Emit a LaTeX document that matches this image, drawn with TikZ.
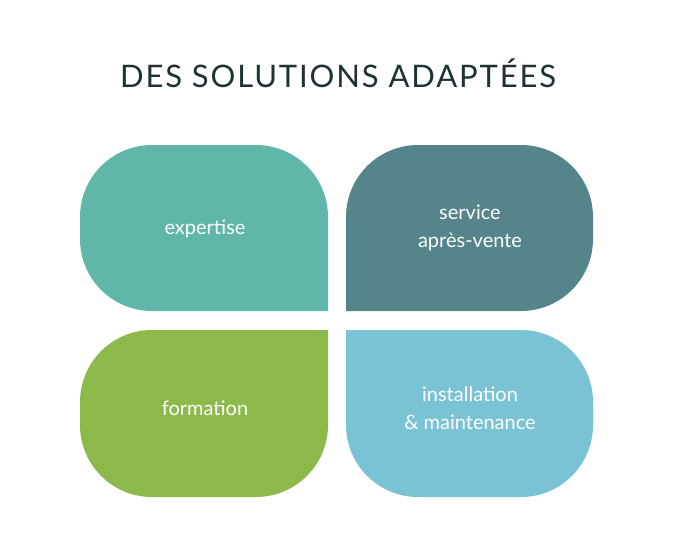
\documentclass[tikz,border=0pt]{standalone}
\usepackage{fontspec}
\setmainfont{Lato}
\newfontfamily\titlefont[LetterSpace=6]{Lato}
\definecolor{cA}{HTML}{5FB6A9}
\definecolor{cB}{HTML}{55858A}
\definecolor{cC}{HTML}{8DB94B}
\definecolor{cD}{HTML}{7AC3D4}
\definecolor{cT}{HTML}{1E3236}
\begin{document}
\begin{tikzpicture}[x=1pt,y=-1pt,
  lbl/.style={text=white,font=\fontsize{20}{28}\selectfont,align=center}]
\useasboundingbox[fill=white] (0,0) rectangle (681,557);
\node[text=cT,font=\titlefont\fontsize{31}{36}\selectfont] (title) at (338,73) {DES SOLUTIONS ADAPTÉES};
\fill[cA,rounded corners=72] (328,311) -- (80,311) -- (80,145) -- (328,145) -- (328,311)[sharp corners] -- cycle;
\fill[cA] (300,311) rectangle (328,250);
\fill[cB,rounded corners=72] (346,311) -- (346,145) -- (593,145) -- (593,311) -- (346,311);
\fill[cB] (346,311) rectangle (380,250);
\fill[cC,rounded corners=72] (328,330) -- (328,497) -- (80,497) -- (80,330) -- (328,330);
\fill[cC] (300,330) rectangle (328,390);
\fill[cD,rounded corners=72] (346,330) -- (593,330) -- (593,497) -- (346,497) -- (346,330);
\fill[cD] (346,330) rectangle (380,390);
\node[lbl] (a) at (205,229) {expertise};
\node[lbl] (b) at (470,228) {service\\après-vente};
\node[lbl] (c) at (205,408) {formation};
\node[lbl] (d) at (470,408) {installation\\\& maintenance};
\end{tikzpicture}
\end{document}
